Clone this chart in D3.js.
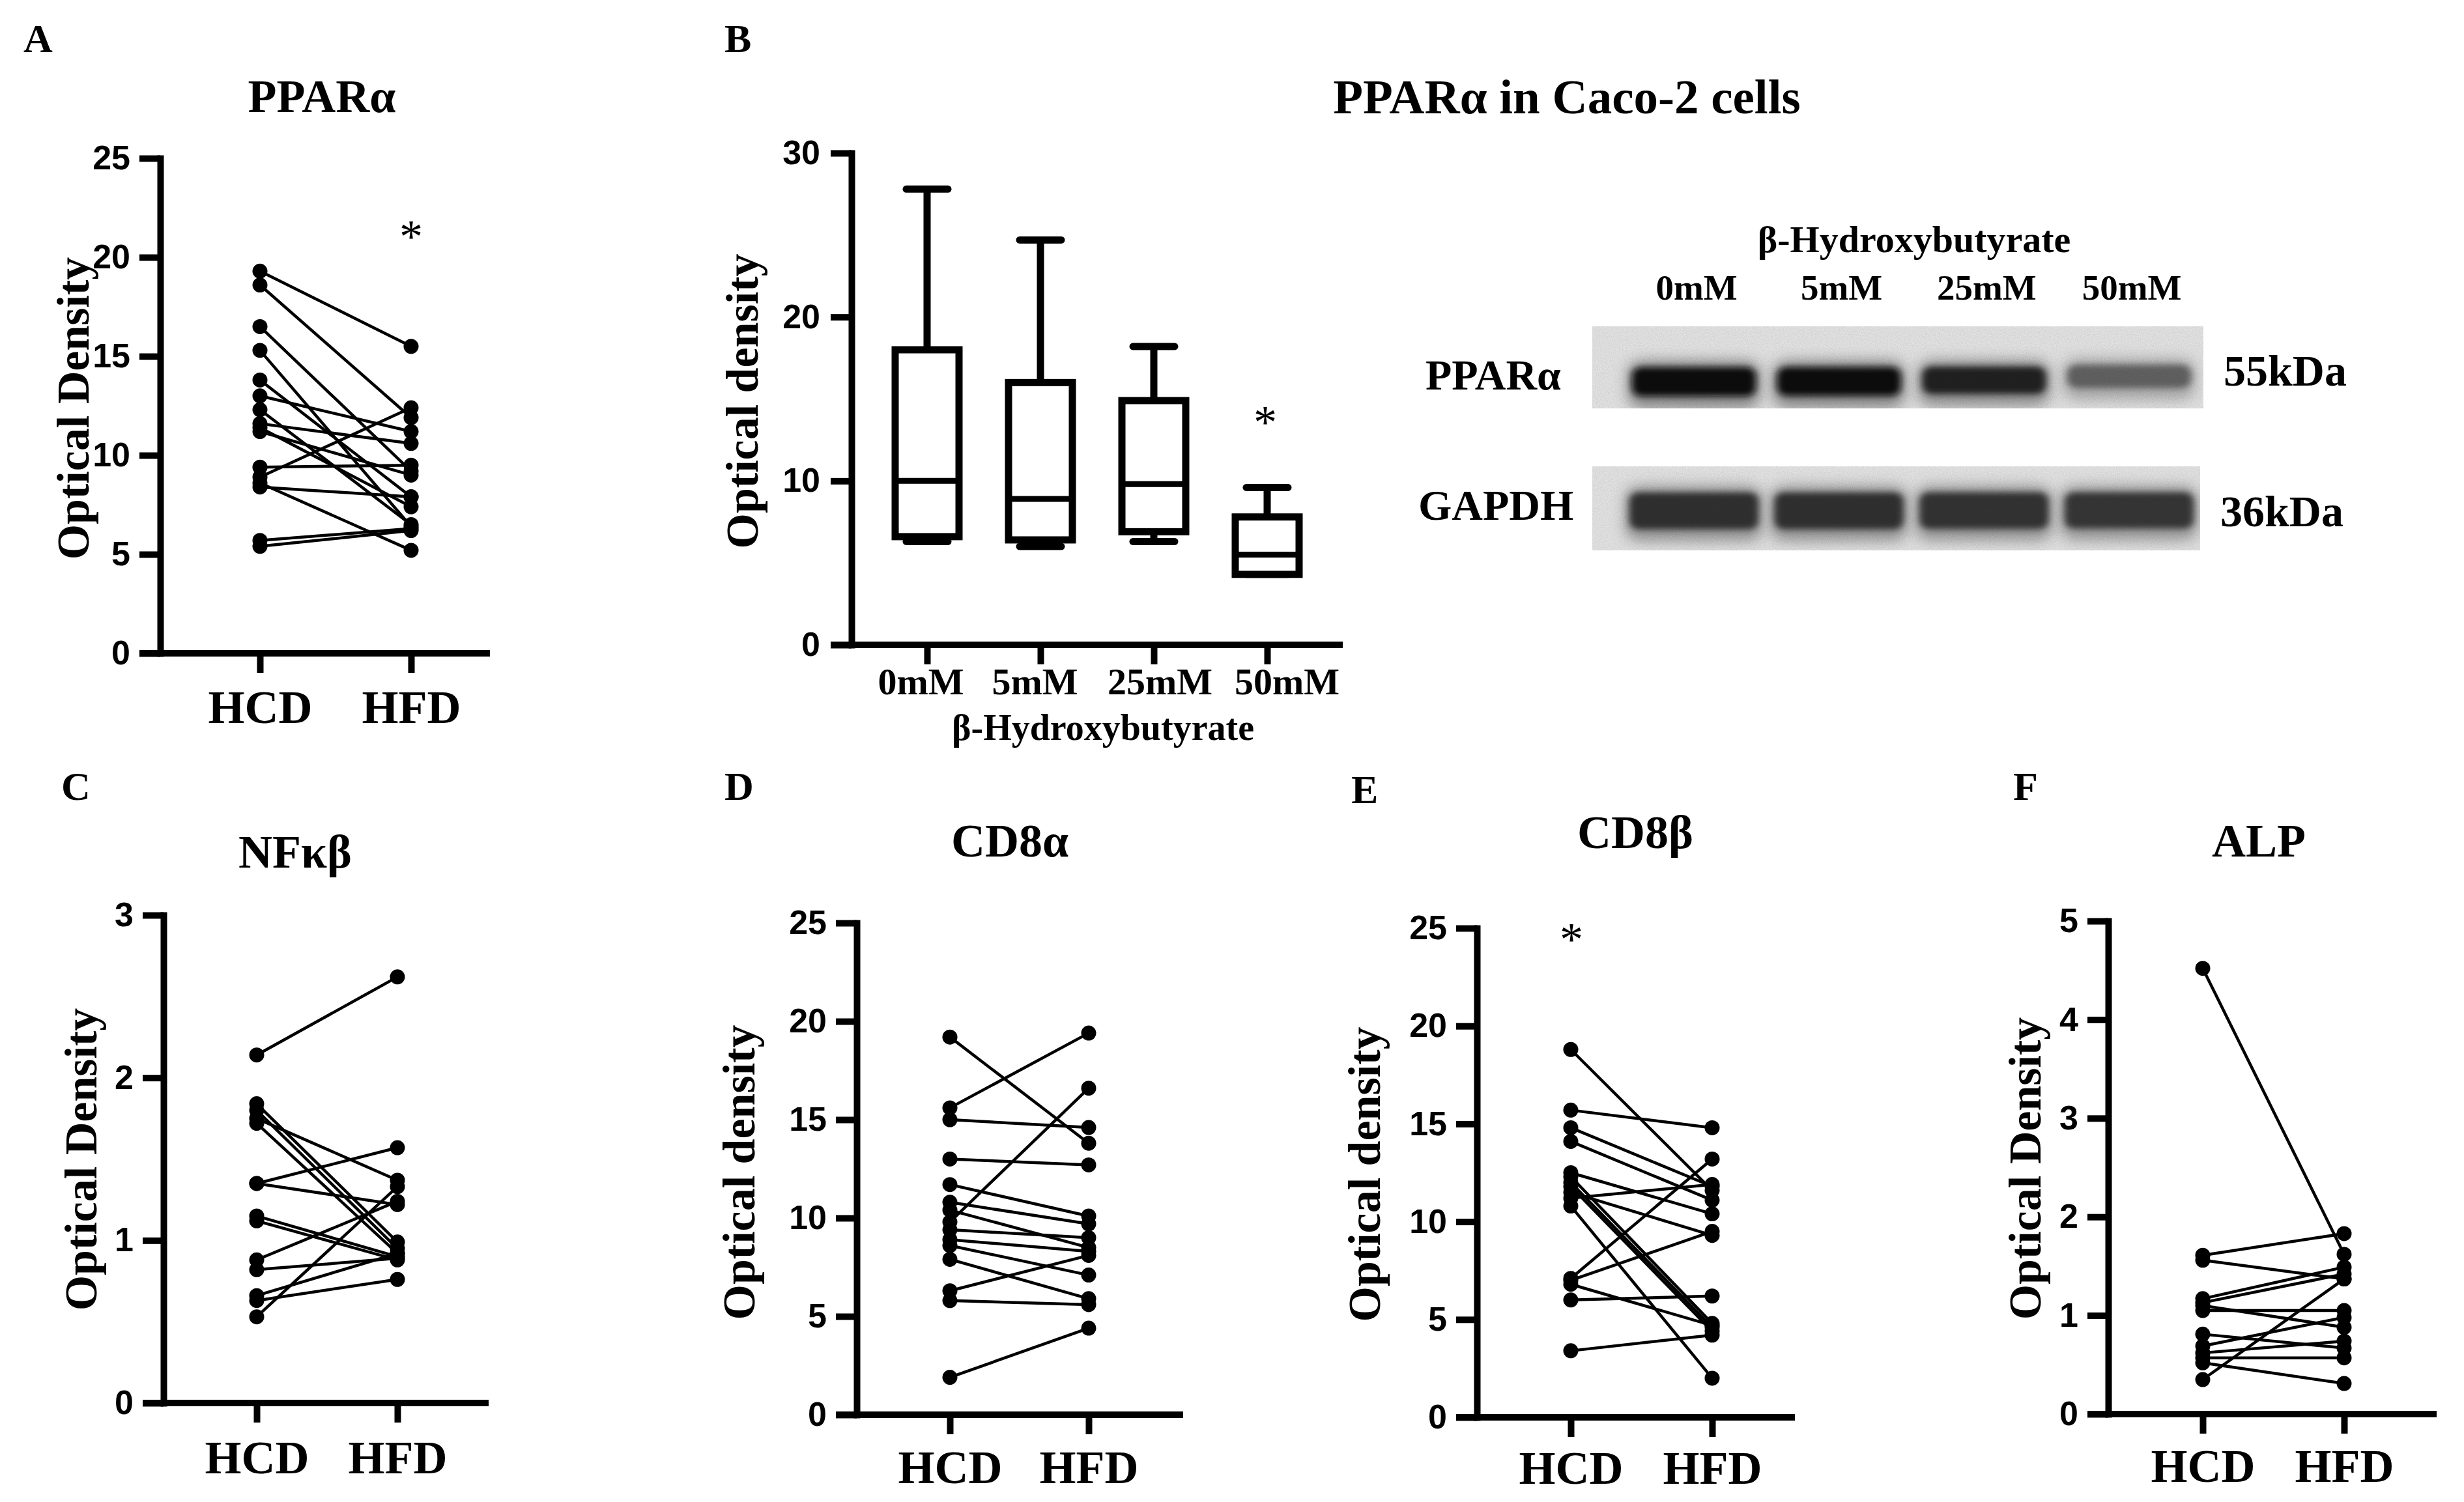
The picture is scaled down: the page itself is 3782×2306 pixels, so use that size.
<!DOCTYPE html>
<html><head><meta charset="utf-8">
<script src="https://cdn.jsdelivr.net/npm/d3@7"></script>
<style>body{margin:0;background:#fff} svg{display:block}</style>
</head><body>
<svg id="fig" width="3782" height="2306"></svg>
<script>
// ---------------- DATA ----------------
const groups = ["HCD", "HFD"];

const ticks25 = [0, 5, 10, 15, 20, 25];
const ticks3 = [0, 1, 2, 3];
const ticks5 = [0, 1, 2, 3, 4, 5];
const ticks30 = [0, 10, 20, 30];

// A: PPARα (paired HCD -> HFD)
const pparHCD = [19.3, 18.6, 16.5, 15.3, 13.8, 13.0, 12.3, 11.6, 11.4, 11.2, 9.4, 8.9, 8.6, 8.4, 5.7, 5.4];
const pparHFD = [15.5, 11.9, 9.2, 6.4, 7.9, 11.2, 6.5, 10.6, 7.4, 9.0, 9.5, 12.4, 5.2, 7.9, 6.3, 6.2];

// C: NFκβ
const nfkbHCD = [2.14, 1.84, 1.80, 1.75, 1.72, 1.35, 1.35, 1.15, 1.12, 0.88, 0.82, 0.66, 0.63, 0.53];
const nfkbHFD = [2.62, 0.99, 0.95, 1.37, 0.92, 1.57, 1.22, 0.90, 0.88, 1.24, 0.89, 0.92, 0.76, 1.33];

// D: CD8α
const cd8aHCD = [19.2, 15.6, 15.0, 13.0, 11.7, 10.8, 10.4, 9.8, 9.4, 8.9, 8.6, 7.9, 6.3, 5.8, 1.9];
const cd8aHFD = [13.8, 19.4, 14.6, 12.7, 10.1, 9.7, 8.5, 16.6, 9.0, 8.3, 7.1, 5.9, 8.1, 5.6, 4.4];

// E: CD8β
const cd8bHCD = [18.8, 15.7, 14.8, 14.1, 12.5, 12.3, 12.0, 11.8, 11.5, 11.2, 10.8, 7.1, 7.0, 6.8, 6.0, 3.4];
const cd8bHFD = [11.6, 14.8, 11.8, 11.1, 10.4, 4.8, 4.6, 4.4, 9.3, 11.9, 2.0, 13.2, 9.5, 4.7, 6.2, 4.2];

// F: ALP
const alpHCD = [4.52, 1.61, 1.56, 1.17, 1.13, 1.10, 1.05, 0.81, 0.69, 0.62, 0.57, 0.52, 0.35];
const alpHFD = [1.62, 1.83, 1.37, 1.49, 1.42, 0.88, 1.05, 0.67, 0.98, 0.74, 0.57, 0.31, 1.37];

// B: PPARα in Caco-2 cells (box plot)
const bhbDoses = ["0mM", "5mM", "25mM", "50mM"];
const boxMin = [6.3, 6.0, 6.3, 4.3];
const boxQ1 = [6.6, 6.4, 6.9, 4.3];
const boxMedian = [10.0, 8.9, 9.8, 5.5];
const boxQ3 = [18.0, 16.0, 14.9, 7.8];
const boxMax = [27.8, 24.7, 18.2, 9.6];

// Western blot relative band intensities
const blotLanes = ["0mM", "5mM", "25mM", "50mM"];
const pparBand = [1.0, 0.98, 0.88, 0.55];
const gapdhBand = [0.80, 0.80, 0.78, 0.76];

// ---------------- LAYOUT / STYLE ----------------
const SERIF = "'Liberation Serif','Times New Roman',serif";
const SANS = "'Liberation Sans',Arial,sans-serif";
const boxLabelShift = [-10, -9, 9, 30];   // label nudges under the box plot ticks

const svg = d3.select("#fig");
svg.append("rect").attr("width", 3782).attr("height", 2306).attr("fill", "#fff");

function text(g, str, x, y, size, opts = {}) {
  const t = g.append("text").attr("x", x).attr("y", y)
    .attr("font-family", opts.family || SERIF)
    .attr("font-weight", opts.weight || "bold")
    .attr("font-size", size)
    .attr("text-anchor", opts.anchor || "start")
    .attr("fill", "#000")
    .text(str);
  if (opts.rotate) t.attr("transform", `rotate(-90,${x},${y})`);
  return t;
}

function styleYAxis(ax, fs) {
  ax.attr("font-family", null).attr("font-size", null);
  ax.select(".domain").attr("stroke", "#000").attr("stroke-width", 10).attr("stroke-linecap", "square");
  ax.selectAll(".tick line").attr("stroke", "#000").attr("stroke-width", 10);
  ax.selectAll(".tick text").attr("font-family", SANS).attr("font-weight", "bold")
    .attr("font-size", fs).attr("fill", "#000");
}

function drawPaired(p) {
  const g = svg.append("g");
  const y = d3.scaleLinear().domain([0, p.max]).range([p.yBottom, p.yTop]);
  const x = d3.scalePoint().domain(groups).range([p.xHCD, p.xHFD]);

  // x axis line
  g.append("line").attr("x1", p.axisX - 32).attr("x2", p.xEnd)
    .attr("y1", y(0)).attr("y2", y(0)).attr("stroke", "#000").attr("stroke-width", 10);
  const xa = g.append("g").attr("transform", `translate(0,${y(0)})`)
    .call(d3.axisBottom(x).tickSize(30).tickSizeOuter(0));
  xa.select(".domain").remove();
  xa.attr("font-family", null).attr("font-size", null);
  xa.selectAll(".tick line").attr("stroke", "#000").attr("stroke-width", 10);
  xa.selectAll(".tick text").attr("font-family", SERIF).attr("font-weight", "bold")
    .attr("font-size", 72).attr("fill", "#000").attr("dy", null).attr("y", p.catY - y(0));

  // y axis
  const ya = g.append("g").attr("transform", `translate(${p.axisX},0)`)
    .call(d3.axisLeft(y).tickValues(p.ticks).tickFormat(d3.format("d")).tickSize(32).tickPadding(14).tickSizeOuter(0));
  styleYAxis(ya, 52);

  // paired lines
  const pairs = p.hcd.map((v, i) => ({ a: v, b: p.hfd[i] }));
  g.append("g").selectAll("line").data(pairs).join("line")
    .attr("x1", x("HCD")).attr("x2", x("HFD"))
    .attr("y1", d => y(d.a)).attr("y2", d => y(d.b))
    .attr("stroke", "#000").attr("stroke-width", 4.5);
  const pts = [];
  pairs.forEach(d => { pts.push({ g: "HCD", v: d.a }); pts.push({ g: "HFD", v: d.b }); });
  g.append("g").selectAll("circle").data(pts).join("circle")
    .attr("cx", d => x(d.g)).attr("cy", d => y(d.v)).attr("r", 11.5).attr("fill", "#000");

  // texts
  text(g, p.title, p.titleX, p.titleY, 72, { anchor: "middle" });
  text(g, p.ylabel, p.labelX, p.labelY, 70, { anchor: "middle", rotate: true });
  text(g, p.letter, p.letterX, p.letterY, 62);
  if (p.star) text(g, "*", p.star[0], p.star[1] + 32, 72, { anchor: "middle", weight: "normal" });
}

const panels = [
  { letter: "A", title: "PPARα", ylabel: "Optical Density", hcd: pparHCD, hfd: pparHFD, max: 25, ticks: ticks25,
    axisX: 246, yTop: 243, yBottom: 1003, xHCD: 399, xHFD: 631, xEnd: 752, catY: 1110,
    titleX: 494, titleY: 172, labelX: 136, labelY: 627, letterX: 36, letterY: 80, star: [631, 355] },
  { letter: "C", title: "NFκβ", ylabel: "Optical Density", hcd: nfkbHCD, hfd: nfkbHFD, max: 3, ticks: ticks3,
    axisX: 251, yTop: 1405, yBottom: 2154, xHCD: 394, xHFD: 610, xEnd: 750, catY: 2262,
    titleX: 453, titleY: 1332, labelX: 148, labelY: 1780, letterX: 94, letterY: 1228 },
  { letter: "D", title: "CD8α", ylabel: "Optical density", hcd: cd8aHCD, hfd: cd8aHFD, max: 25, ticks: ticks25,
    axisX: 1315, yTop: 1417, yBottom: 2172, xHCD: 1458, xHFD: 1671, xEnd: 1816, catY: 2277,
    titleX: 1550, titleY: 1315, labelX: 1158, labelY: 1800, letterX: 1112, letterY: 1228 },
  { letter: "E", title: "CD8β", ylabel: "Optical density", hcd: cd8bHCD, hfd: cd8bHFD, max: 25, ticks: ticks25,
    axisX: 2267, yTop: 1425, yBottom: 2176, xHCD: 2411, xHFD: 2628, xEnd: 2755, catY: 2278,
    titleX: 2510, titleY: 1302, labelX: 2118, labelY: 1803, letterX: 2074, letterY: 1233, star: [2412, 1434] },
  { letter: "F", title: "ALP", ylabel: "Optical Density", hcd: alpHCD, hfd: alpHFD, max: 5, ticks: ticks5,
    axisX: 3236, yTop: 1414, yBottom: 2171, xHCD: 3381, xHFD: 3598, xEnd: 3740, catY: 2275,
    titleX: 3467, titleY: 1315, labelX: 3132, labelY: 1794, letterX: 3090, letterY: 1228 },
];
panels.forEach(drawPaired);

// ---------------- PANEL B: box plot ----------------
(function () {
  const g = svg.append("g");
  const y = d3.scaleLinear().domain([0, 30]).range([990, 235]);
  const x = d3.scalePoint().domain(bhbDoses).range([1423, 1945]);
  const axisX = 1307;

  g.append("line").attr("x1", axisX - 32).attr("x2", 2061).attr("y1", y(0)).attr("y2", y(0))
    .attr("stroke", "#000").attr("stroke-width", 10);
  const xa = g.append("g").attr("transform", `translate(0,${y(0)})`)
    .call(d3.axisBottom(x).tickSize(30).tickSizeOuter(0));
  xa.select(".domain").remove();
  xa.attr("font-family", null).attr("font-size", null);
  xa.selectAll(".tick line").attr("stroke", "#000").attr("stroke-width", 10);
  xa.selectAll(".tick text").attr("font-family", SERIF).attr("font-weight", "bold")
    .attr("font-size", 58).attr("fill", "#000").attr("dy", null).attr("y", 76)
    .attr("dx", (d, i) => boxLabelShift[i]);

  const ya = g.append("g").attr("transform", `translate(${axisX},0)`)
    .call(d3.axisLeft(y).tickValues(ticks30).tickFormat(d3.format("d")).tickSize(32).tickPadding(16).tickSizeOuter(0));
  styleYAxis(ya, 52);

  const boxes = bhbDoses.map((d, i) => ({ d, min: boxMin[i], q1: boxQ1[i], med: boxMedian[i], q3: boxQ3[i], max: boxMax[i] }));
  const bw = 98, cw = 64, sw = 11;
  const bg = g.append("g").attr("stroke", "#000").attr("fill", "none");
  boxes.forEach(b => {
    const cx = x(b.d);
    bg.append("line").attr("x1", cx).attr("x2", cx).attr("y1", y(b.max)).attr("y2", y(b.q3)).attr("stroke-width", sw);
    bg.append("line").attr("x1", cx).attr("x2", cx).attr("y1", y(b.q1)).attr("y2", y(b.min)).attr("stroke-width", sw);
    bg.append("line").attr("x1", cx - cw / 2).attr("x2", cx + cw / 2).attr("y1", y(b.max)).attr("y2", y(b.max))
      .attr("stroke-width", sw).attr("stroke-linecap", "round");
    bg.append("line").attr("x1", cx - cw / 2).attr("x2", cx + cw / 2).attr("y1", y(b.min)).attr("y2", y(b.min))
      .attr("stroke-width", sw).attr("stroke-linecap", "round");
    bg.append("rect").attr("x", cx - bw / 2).attr("width", bw).attr("y", y(b.q3)).attr("height", y(b.q1) - y(b.q3))
      .attr("fill", "#fff").attr("stroke-width", sw);
    bg.append("line").attr("x1", cx - bw / 2).attr("x2", cx + bw / 2).attr("y1", y(b.med)).attr("y2", y(b.med))
      .attr("stroke-width", 9);
  });

  text(g, "*", 1942, 640 + 32, 72, { anchor: "middle", weight: "normal" });
  text(g, "β-Hydroxybutyrate", 1693, 1136, 56, { anchor: "middle" });
  text(g, "Optical density", 1163, 616, 70, { anchor: "middle", rotate: true });
  text(g, "B", 1112, 80, 62);
  text(g, "PPARα in Caco-2 cells", 2405, 174, 75, { anchor: "middle" });
})();

// ---------------- PANEL B: Western blot ----------------
(function () {
  const g = svg.append("g");
  const defs = svg.append("defs");
  defs.append("filter").attr("id", "blurCore").attr("x", "-30%").attr("y", "-100%").attr("width", "160%").attr("height", "300%")
    .append("feGaussianBlur").attr("stdDeviation", "6 5");
  defs.append("filter").attr("id", "blurHalo").attr("x", "-30%").attr("y", "-100%").attr("width", "160%").attr("height", "300%")
    .append("feGaussianBlur").attr("stdDeviation", "11 10");
  const nf = defs.append("filter").attr("id", "noise").attr("x", 0).attr("y", 0).attr("width", "100%").attr("height", "100%");
  nf.append("feTurbulence").attr("type", "fractalNoise").attr("baseFrequency", 0.6).attr("numOctaves", 2).attr("seed", 3);
  nf.append("feColorMatrix").attr("type", "matrix")
    .attr("values", "0 0 0 0 0  0 0 0 0 0  0 0 0 0 0  0 0 0 0.14 0");

  const lx = d3.scalePoint().domain(blotLanes).range([2600, 3268]);
  const shade = d3.interpolateRgb("#d6d6d6", "#080808");

  const blots = [
    { y0: 501, y1: 627, x0: 2444, x1: 3382, vals: pparBand, cy: 586, H: 44, w: 190 },
    { y0: 716, y1: 845, x0: 2444, x1: 3377, vals: gapdhBand, cy: 788, H: 62, w: 198 },
  ];
  blots.forEach(b => {
    g.append("rect").attr("x", b.x0).attr("y", b.y0).attr("width", b.x1 - b.x0).attr("height", b.y1 - b.y0).attr("fill", "#ececec");
    const clipId = "clip" + b.y0;
    defs.append("clipPath").attr("id", clipId).append("rect")
      .attr("x", b.x0).attr("y", b.y0).attr("width", b.x1 - b.x0).attr("height", b.y1 - b.y0);
    const bg = g.append("g").attr("clip-path", `url(#${clipId})`);
    b.vals.forEach((v, i) => {
      const cx = lx(blotLanes[i]);
      const h = b.H * (0.55 + 0.45 * v);
      const cy = b.cy - (1 - v) * 18;
      bg.append("rect").attr("x", cx - b.w / 2 - 6).attr("width", b.w + 12)
        .attr("y", cy - h / 2 - 10).attr("height", h + 28).attr("rx", 20)
        .attr("fill", shade(v * 0.75)).attr("opacity", 0.55).attr("filter", "url(#blurHalo)");
      bg.append("rect").attr("x", cx - b.w / 2).attr("width", b.w)
        .attr("y", cy - h / 2).attr("height", h).attr("rx", 14)
        .attr("fill", shade(v)).attr("filter", "url(#blurCore)");
    });
    g.append("rect").attr("x", b.x0).attr("y", b.y0).attr("width", b.x1 - b.x0).attr("height", b.y1 - b.y0).attr("filter", "url(#noise)");
  });

  text(g, "β-Hydroxybutyrate", 2938, 387, 58, { anchor: "middle" });
  blotLanes.forEach(l => text(g, l, lx(l) + 4, 460, 55, { anchor: "middle" }));
  text(g, "PPARα", 2188, 598, 66);
  text(g, "GAPDH", 2177, 798, 66);
  text(g, "55kDa", 3413, 592, 68);
  text(g, "36kDa", 3408, 808, 68);
})();
</script>
</body></html>
